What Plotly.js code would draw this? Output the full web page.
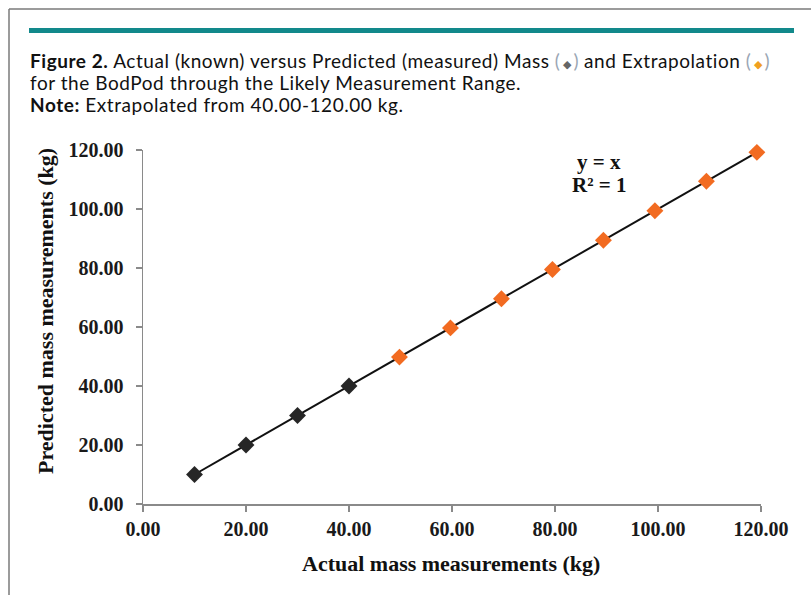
<!DOCTYPE html>
<html>
<head>
<meta charset="utf-8">
<script src="https://cdn.plot.ly/plotly-3.0.1.min.js"></script>
<style>html,body{margin:0;padding:0;background:#fff;}#chart{width:811px;height:595px;}</style>
</head>
<body>
<div id="chart"></div>
<script>
// Data
var measuredX = [10, 20, 30, 40];
var measuredY = [10, 20, 30, 40];
var extrapX = [49.8, 59.7, 69.6, 79.5, 89.4, 99.4, 109.4, 119.2];
var extrapY = [49.8, 59.7, 69.6, 79.5, 89.4, 99.4, 109.4, 119.2];
var trendX = [10, 119.2];
var trendY = [10, 119.2];
var tickVals = [0, 20, 40, 60, 80, 100, 120];

var W = 811, H = 595;
var L = 143, R = 50, T = 150, B = 91;
var PW = W - L - R, PH = H - T - B;
function px(x) { return (x - L) / PW; }
function py(y) { return (H - B - y) / PH; }

var serif = 'Liberation Serif, Times New Roman, serif';
var sans = 'Lato, Open Sans, sans-serif';

var traces = [
  {x: trendX, y: trendY, mode: 'lines', line: {color: '#111', width: 2}, hoverinfo: 'skip', showlegend: false, cliponaxis: false},
  {x: measuredX, y: measuredY, mode: 'markers', name: 'Measured', cliponaxis: false,
   marker: {symbol: 'diamond', size: 13, color: '#262626'}, showlegend: false},
  {x: extrapX, y: extrapY, mode: 'markers', name: 'Extrapolation', cliponaxis: false,
   marker: {symbol: 'diamond', size: 13, color: '#f26b21'}, showlegend: false}
];

var paren = '#9aa6b4';
var ls = 'letter-spacing:0.55px';
var titleLines = [
  '<span style="' + ls + '"><b>Figure 2.</b> Actual (known) versus Predicted (measured) Mass </span>' +
  '<span style="color:' + paren + '">(</span><span style="color:#666;font-size:11px"> ◆ </span><span style="color:' + paren + '">)</span>' +
  '<span style="' + ls + '"> and Extrapolation </span>' +
  '<span style="color:' + paren + '">(</span><span style="color:#f0a020;font-size:11px"> ◆ </span><span style="color:' + paren + '">)</span>',
  '<span style="' + ls + '">for the BodPod through the Likely Measurement Range.</span>',
  '<span style="' + ls + '"><b>Note:</b> Extrapolated from 40.00-120.00 kg.</span>'
];
var titleY = [60, 82, 104];

var annotations = [];
for (var i = 0; i < titleLines.length; i++) {
  annotations.push({xref: 'paper', yref: 'paper', x: px(29), y: py(titleY[i]), xanchor: 'left', yanchor: 'middle',
    align: 'left', showarrow: false, text: titleLines[i], borderpad: 0,
    font: {family: sans, size: 19, color: '#111'}});
}
annotations.push(
  {xref: 'paper', yref: 'paper', x: px(451), y: py(563), xanchor: 'center', yanchor: 'middle',
   showarrow: false, text: '<b>Actual mass measurements (kg)</b>',
   font: {family: serif, size: 22, color: '#111'}},
  {xref: 'paper', yref: 'paper', x: px(45), y: py(311), xanchor: 'center', yanchor: 'middle',
   textangle: -90, showarrow: false, text: '<b>Predicted mass measurements (kg)</b>',
   font: {family: serif, size: 22, color: '#111'}},
  {xref: 'paper', yref: 'paper', x: px(599), y: py(162), xanchor: 'center', yanchor: 'middle',
   showarrow: false, text: '<b>y = x</b>',
   font: {family: serif, size: 21, color: '#111'}},
  {xref: 'paper', yref: 'paper', x: px(599), y: py(185), xanchor: 'center', yanchor: 'middle',
   showarrow: false, text: '<b>R² = 1</b>',
   font: {family: serif, size: 21, color: '#111'}}
);

var layout = {
  width: W, height: H,
  margin: {l: L, r: R, t: T, b: B, pad: 0},
  paper_bgcolor: '#fff', plot_bgcolor: '#fff',
  showlegend: false,
  xaxis: {
    range: [0, 120], tickvals: tickVals, tickformat: '.2f',
    showgrid: false, zeroline: false, showline: true, linecolor: '#8a8a8a', linewidth: 1.5,
    ticks: 'outside', ticklen: 6, tickcolor: '#8a8a8a', tickwidth: 1.5,
    tickfont: {family: serif, size: 20, color: '#1a1a1a', weight: 'bold'},
    fixedrange: true
  },
  yaxis: {
    range: [0, 120], tickvals: tickVals, tickformat: '.2f',
    showgrid: false, zeroline: false, showline: true, linecolor: '#8a8a8a', linewidth: 1.5,
    ticks: 'outside', ticklen: 6, tickcolor: '#8a8a8a', tickwidth: 1.5,
    tickfont: {family: serif, size: 20, color: '#1a1a1a', weight: 'bold'},
    ticklabelstandoff: 8,
    fixedrange: true
  },
  shapes: [
    {type: 'line', xref: 'paper', yref: 'paper', x0: px(9), x1: px(811), y0: py(9), y1: py(9),
     line: {color: '#7a7a7a', width: 1.5}},
    {type: 'line', xref: 'paper', yref: 'paper', x0: px(9), x1: px(9), y0: py(9), y1: py(595),
     line: {color: '#7a7a7a', width: 1.5}},
    {type: 'rect', xref: 'paper', yref: 'paper', x0: px(29), x1: px(794), y0: py(28), y1: py(33),
     fillcolor: '#12898b', line: {width: 0}}
  ],
  annotations: annotations
};

Plotly.newPlot('chart', traces, layout, {displayModeBar: false, staticPlot: true});
</script>
</body>
</html>
